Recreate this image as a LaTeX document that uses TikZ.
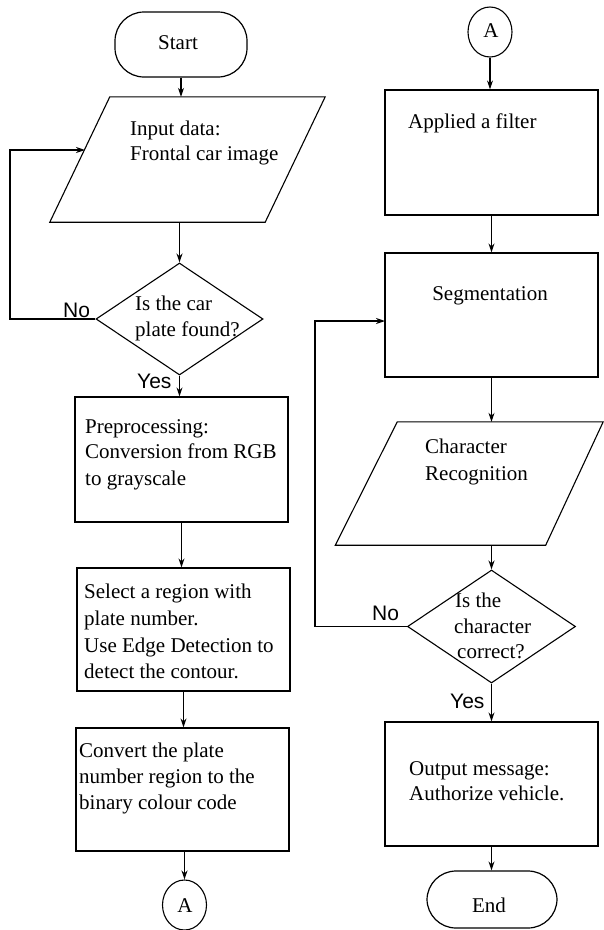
\documentclass[tikz,border=0pt]{standalone}
\usepackage{fontspec}
\setmainfont{Liberation Serif}
\newfontfamily\lblfont{Liberation Sans}
\usetikzlibrary{shapes.geometric,arrows.meta,calc}
\begin{document}
\begin{tikzpicture}[x=1pt,y=-1pt,
 box/.style={draw, line width=1.3pt, minimum width=213pt, minimum height=124pt, inner sep=0pt},
 term/.style={draw, line width=1.2pt, rounded corners=29pt, inner sep=0pt},
 parabox/.style={inner sep=0pt},
 paraline/.style={line width=1.1pt, line join=miter},
 dec/.style={draw, line width=1.1pt, diamond, inner sep=0pt},
 conn/.style={draw, line width=1.1pt, ellipse, inner sep=0pt, minimum width=44pt, minimum height=50pt},
 txt/.style={anchor=base west, inner sep=0pt, font=\fontsize{21}{26}\selectfont},
 ctxt/.style={anchor=base, inner sep=0pt, font=\fontsize{21}{26}\selectfont},
 lbl/.style={anchor=base west, inner sep=0pt, font=\lblfont\fontsize{21}{26}\selectfont},
 arr/.style={line width=1.1pt, -{Stealth[length=9pt,width=6pt]}}
]
\useasboundingbox (0,0) rectangle (604,930);

% ---------- left column ----------
\node[term, minimum width=132pt, minimum height=65pt] (start) at (181,44.5) {};
\node[ctxt] (tstart) at (178,49) {Start};

\node[parabox, minimum width=275pt, minimum height=125pt] (in1) at (187.5,159.5) {};
\draw[paraline] (in1.south west) -- ($(in1.south east)+(-60,0)$) -- (in1.north east)
   -- ($(in1.north west)+(60,0)$) -- cycle;
\node[txt] (tin1) at (130,135) {Input data:};
\node[txt] (tin2) at (130,160) {Frontal car image};
\coordinate (in1in) at (85,150);
\coordinate (loop1) at (10,150);

\node[dec, minimum width=167pt, minimum height=112pt] (d1) at (179.5,319) {};
\node[txt] (td1a) at (135,310) {Is the car};
\node[txt] (td1b) at (135,336) {plate found?};
\node[lbl] (no1) at (63,317) {No};
\node[lbl] (yes1) at (137,388) {Yes};

\node[box, minimum height=125pt] (p1) at (181.5,459.5) {};
\node[txt] (tp1a) at (85,433) {Preprocessing:};
\node[txt] (tp1b) at (85,458) {Conversion from RGB};
\node[txt] (tp1c) at (85,485) {to grayscale};

\node[box, minimum height=123pt] (b2) at (183.5,629.5) {};
\node[txt] (tb2a) at (84,598) {Select a region with};
\node[txt] (tb2b) at (84,625) {plate number.};
\node[txt] (tb2c) at (84,652) {Use Edge Detection to};
\node[txt] (tb2d) at (84,678) {detect the contour.};

\node[box, minimum height=123pt] (b3) at (182.5,789.5) {};
\node[txt] (tb3a) at (79,757) {Convert the plate};
\node[txt] (tb3b) at (79,783) {number region to the};
\node[txt] (tb3c) at (79,809) {binary colour code};

\node[conn] (a1) at (184.5,905) {};
\node[ctxt] (ta1) at (185,912) {A};

% ---------- right column ----------
\node[conn] (a2) at (490,32) {};
\node[ctxt] (ta2) at (491,37) {A};

\node[box, minimum height=125pt] (f1) at (491.5,152.5) {};
\node[txt] (tf1) at (408,128) {Applied a filter};

\node[box] (seg) at (491.5,315) {};
\node[ctxt] (tseg) at (490,300) {Segmentation};
\coordinate (segin) at (385,321);
\coordinate (loop2) at (315,321);

\node[parabox, minimum width=268pt, minimum height=123pt] (cr) at (469.5,483.5) {};
\draw[paraline] (cr.south west) -- ($(cr.south east)+(-58,0)$) -- ($(cr.north east)+(-0.5,0)$)
   -- ($(cr.north west)+(62,0)$) -- cycle;
\node[txt] (tcr1) at (425,453) {Character};
\node[txt] (tcr2) at (425,480) {Recognition};

\node[dec, minimum width=168pt, minimum height=113pt] (d2) at (491.5,626.5) {};
\node[txt] (td2a) at (455,607) {Is the};
\node[txt] (td2b) at (454,633) {character};
\node[txt] (td2c) at (457,658) {correct?};
\node[lbl] (no2) at (372,620) {No};
\node[lbl] (yes2) at (450,708) {Yes};

\node[box] (out) at (491.5,784) {};
\node[txt] (tout1) at (409,775) {Output message:};
\node[txt] (tout2) at (409,800) {Authorize vehicle.};

\node[term, minimum width=130pt, minimum height=57pt] (end) at (492,899.5) {};
\node[ctxt] (tend) at (489,912) {End};

% ---------- connectors ----------
\draw[arr] (start.south) -- (start.south |- in1.north);
\draw[arr] (d1.north |- in1.south) -- (d1.north);
\draw[arr] (d1.west) -| (loop1) -- (in1in);
\draw[arr] (d1.south) -- (d1.south |- p1.north);
\draw[arr] (p1.south) -- (p1.south |- b2.north);
\draw[arr] (b2.south) -- (b2.south |- b3.north);
\draw[arr] (a1.north |- b3.south) -- (a1.north);

\draw[arr] (a2.south) -- (a2.south |- f1.north);
\draw[arr] (f1.south) -- (seg.north);
\draw[arr] (seg.south) -- (seg.south |- cr.north);
\draw[arr] (d2.north |- cr.south) -- (d2.north);
\draw[arr] (d2.west) -| (loop2) -- (segin);
\draw[arr] (d2.south) -- (d2.south |- out.north);
\draw[arr] (out.south) -- (out.south |- end.north);
\end{tikzpicture}
\end{document}
